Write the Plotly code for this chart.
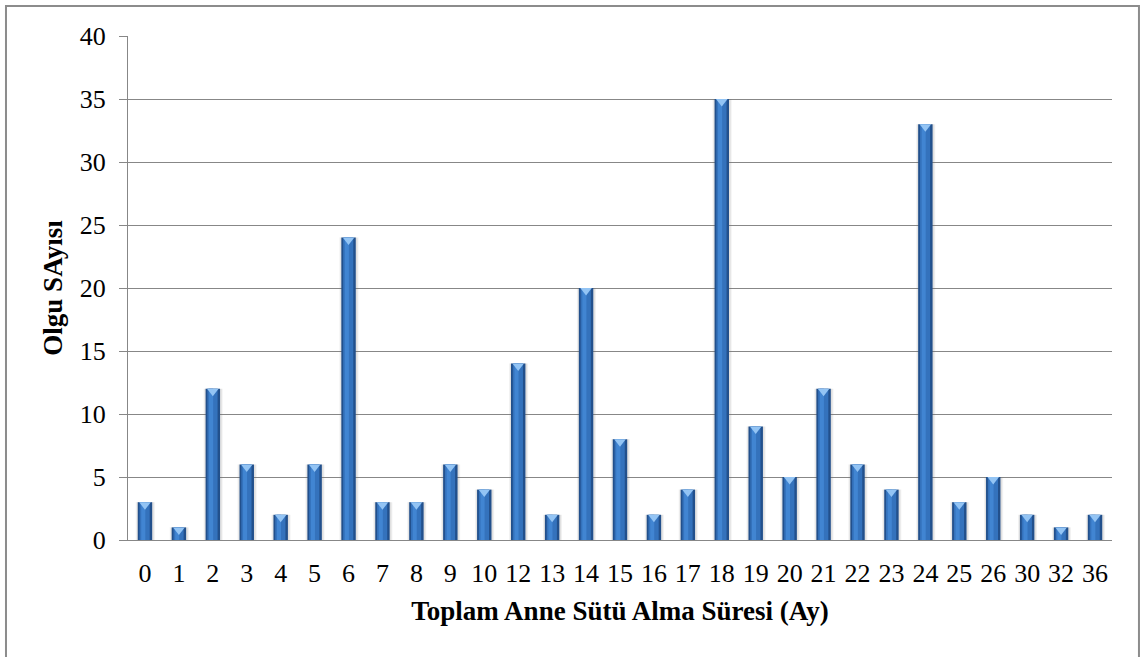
import plotly.graph_objects as go

# Toplam anne sütü alma süresi (ay) ve olgu sayıları
months = ["0", "1", "2", "3", "4", "5", "6", "7", "8", "9", "10", "12", "13", "14",
          "15", "16", "17", "18", "19", "20", "21", "22", "23", "24", "25", "26",
          "30", "32", "36"]
cases = [3, 1, 12, 6, 2, 6, 24, 3, 3, 6, 4, 14, 2, 20, 8, 2, 4, 35, 9, 5, 12, 6,
         4, 33, 3, 5, 2, 1, 2]

y_ticks = [0, 5, 10, 15, 20, 25, 30, 35, 40]

FONT = "Liberation Serif"

fig = go.Figure()

# soft shadow behind each column
fig.add_trace(go.Bar(x=months, y=cases, width=0.56, offset=-0.27,
                     marker=dict(color="rgba(120,120,120,0.10)", line=dict(width=0)),
                     hoverinfo="skip", showlegend=False))
fig.add_trace(go.Bar(x=months, y=cases, width=0.5, offset=-0.24,
                     marker=dict(color="rgba(110,110,110,0.12)", line=dict(width=0)),
                     hoverinfo="skip", showlegend=False))
# column body: dark rim, lighter face, highlight stripe
fig.add_trace(go.Bar(x=months, y=cases, width=0.425, offset=-0.2125,
                     marker=dict(color="#22508c", line=dict(width=0)),
                     hoverinfo="skip", showlegend=False))
fig.add_trace(go.Bar(x=months, y=cases, width=0.30, offset=-0.16,
                     marker=dict(color="#3472bc", line=dict(width=0)),
                     hoverinfo="skip", showlegend=False))
fig.add_trace(go.Bar(x=months, y=cases, width=0.12, offset=-0.11,
                     marker=dict(color="#4185d2", line=dict(width=0)),
                     name="Olgu", showlegend=False))
# bevelled top of each column
fig.add_trace(go.Scatter(x=months, y=[v - 0.2 for v in cases], mode="markers",
                         marker=dict(symbol="triangle-down", size=10,
                                     color="#93c4f4", line=dict(width=0)),
                         hoverinfo="skip", showlegend=False))

axis_color = "#878787"

fig.update_layout(
    width=1140, height=657,
    barmode="overlay",
    paper_bgcolor="white", plot_bgcolor="white",
    margin=dict(l=128, r=28, t=36, b=117),
    font=dict(family=FONT, size=26, color="black"),
    xaxis=dict(
        type="category", categoryorder="array", categoryarray=months,
        range=[-0.5, len(months) - 0.5],
        showline=True, linecolor=axis_color, linewidth=1,
        showgrid=False, ticks="", zeroline=False,
        tickfont=dict(family=FONT, size=26, color="black"),
        ticklabelstandoff=10,
        title=dict(text="<b>Toplam Anne Sütü Alma Süresi (Ay)</b>",
                   font=dict(family=FONT, size=27, color="black"), standoff=13),
    ),
    yaxis=dict(
        range=[0, 40], tickvals=y_ticks,
        showline=True, linecolor=axis_color, linewidth=1,
        showgrid=True, gridcolor=axis_color, gridwidth=1,
        ticks="outside", ticklen=8, tickcolor=axis_color, tickwidth=1,
        zeroline=False,
        tickfont=dict(family=FONT, size=26, color="black"),
        ticklabelstandoff=8,
        title=dict(text="<b>Olgu SAyısı</b>",
                   font=dict(family=FONT, size=27, color="black"), standoff=9),
    ),
    shapes=[dict(type="rect", xref="paper", yref="paper",
                 x0=-0.124, x1=1.0274, y0=-0.25, y1=1.0595,
                 line=dict(color="#8c8c8c", width=2), fillcolor="rgba(0,0,0,0)",
                 layer="below")],
)

fig.write_html("out.html")
